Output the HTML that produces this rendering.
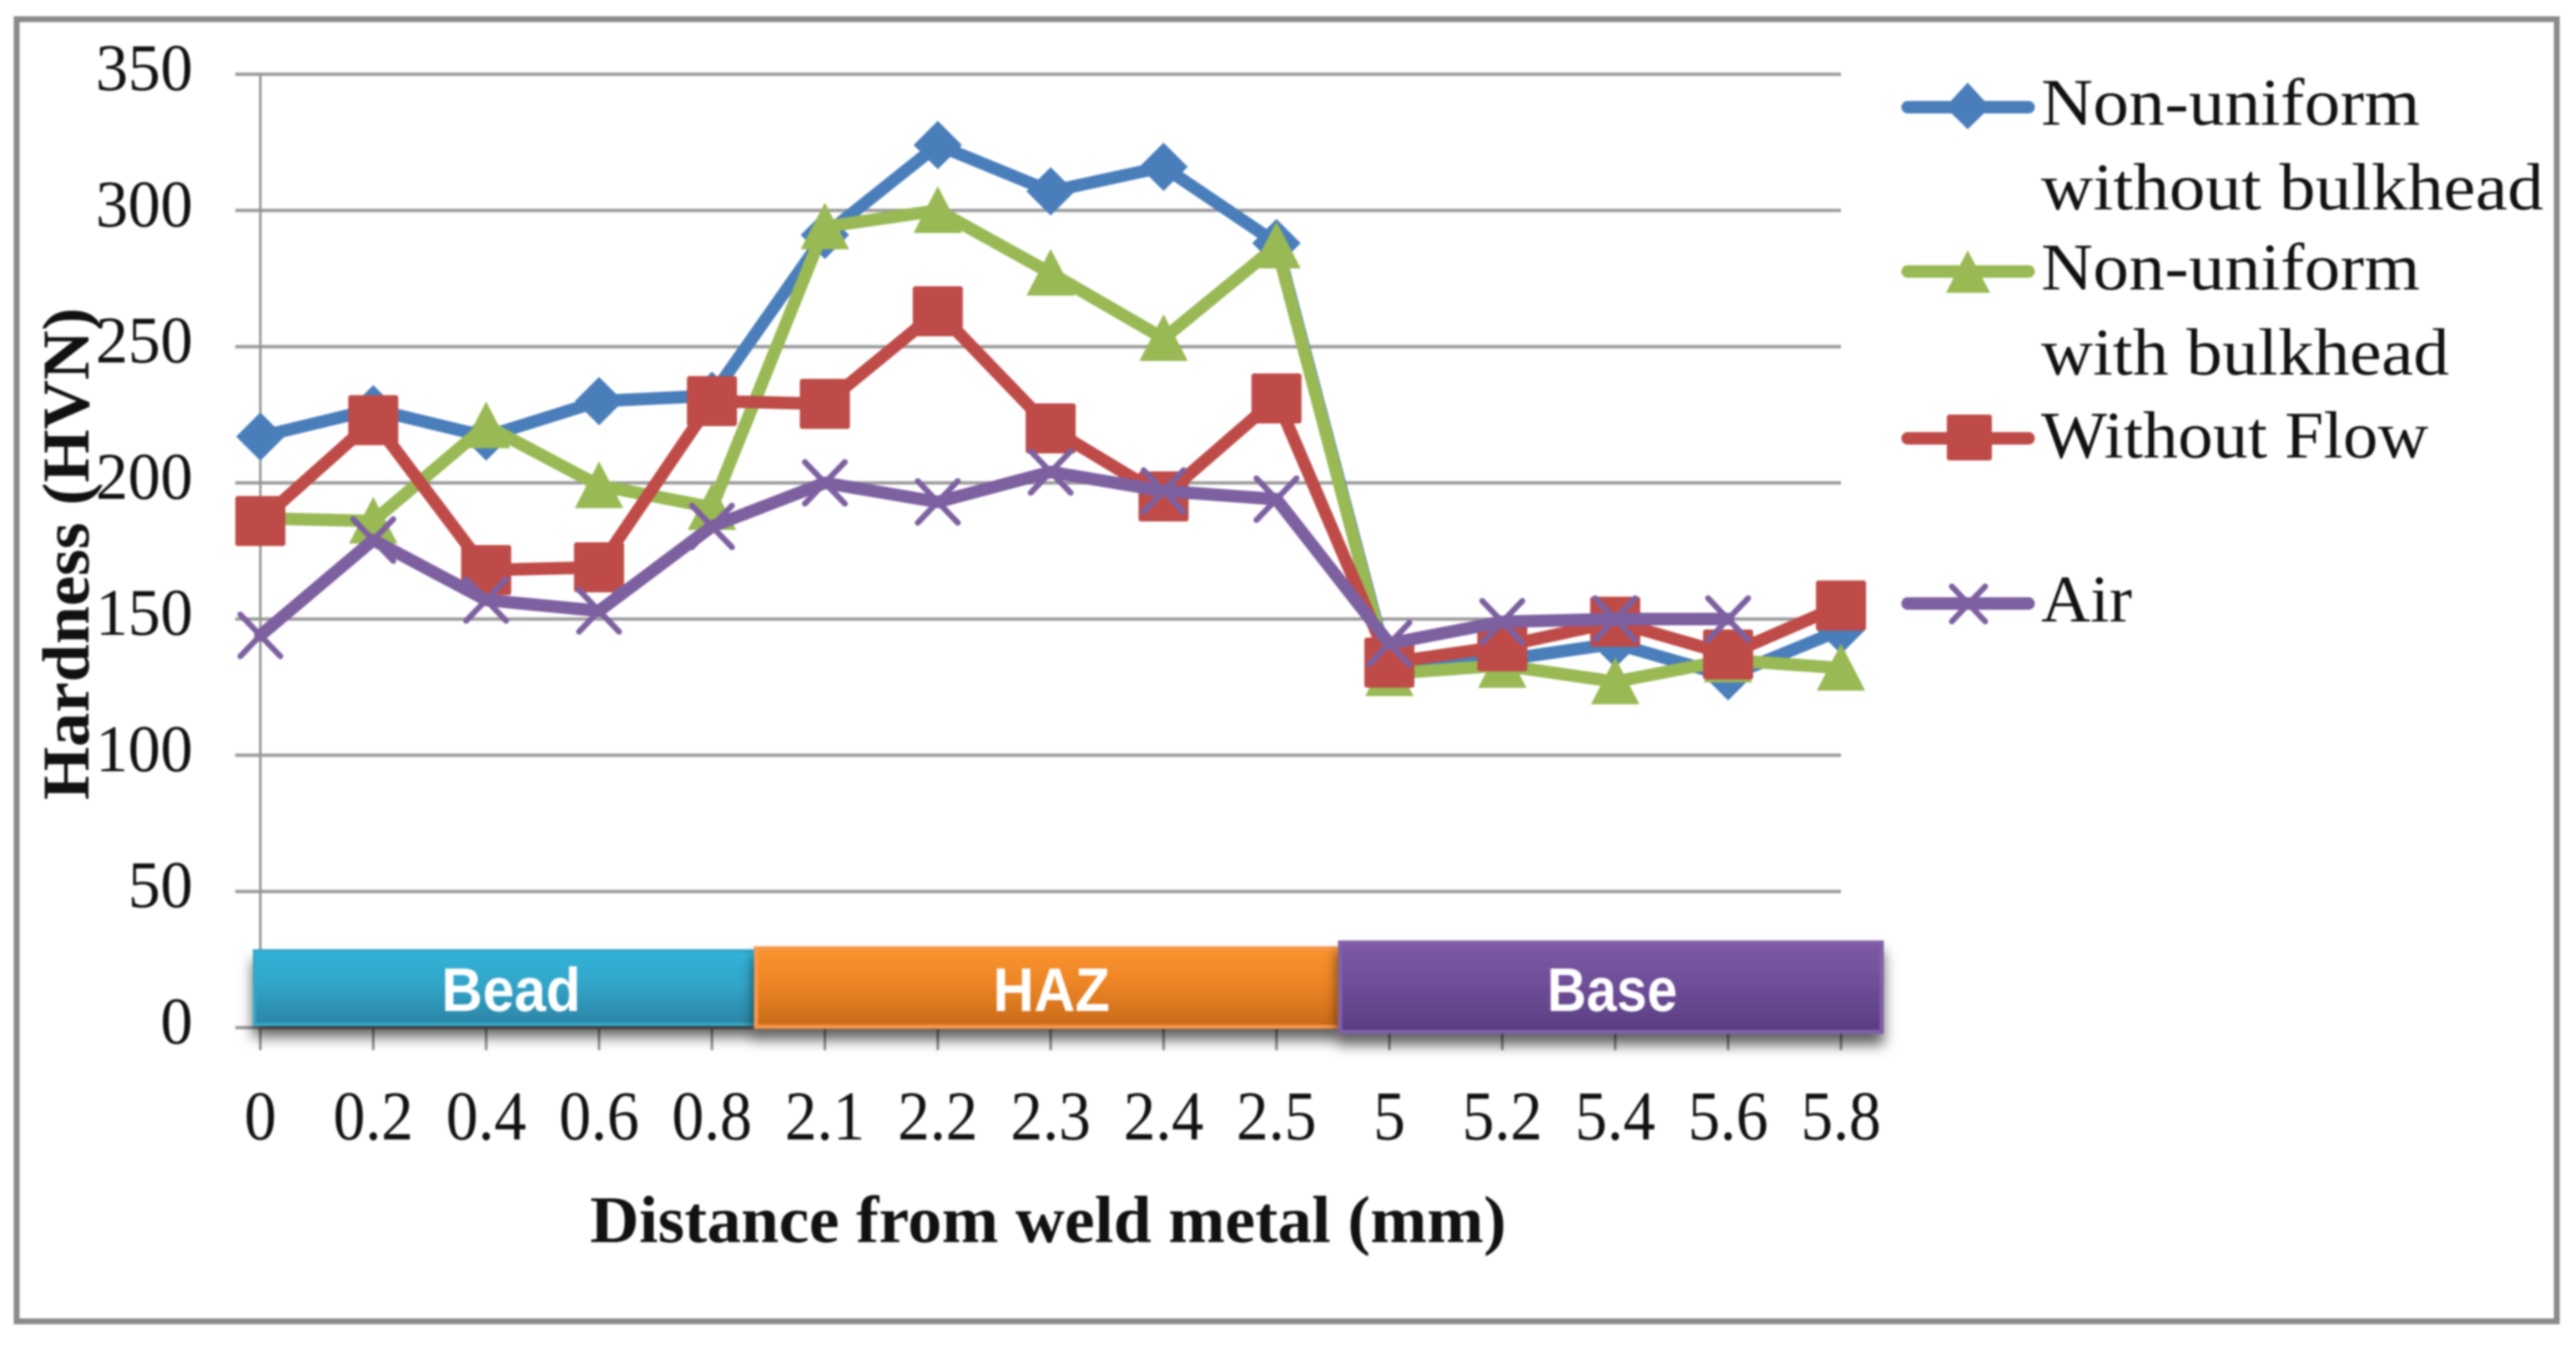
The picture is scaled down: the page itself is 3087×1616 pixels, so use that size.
<!DOCTYPE html>
<html lang="en">
<head>
<meta charset="utf-8">
<title>Hardness vs distance from weld metal</title>
<style>
  html, body { margin: 0; padding: 0; background: #ffffff; }
  body { width: 3087px; height: 1616px; overflow: hidden; }
  svg { display: block; filter: blur(1px); }
  text { font-family: "Liberation Serif", serif; fill: #111111; text-rendering: geometricPrecision; }
  .band-label { font-family: "Liberation Sans", sans-serif; font-weight: 700; fill: #ffffff; font-size: 74px; }
  .legend-text { font-size: 80px; }
  .axis-title { font-size: 80px; font-weight: 700; }
</style>
</head>
<body>
<svg id="chart" xmlns="http://www.w3.org/2000/svg" width="3087" height="1616" viewBox="0 0 3087 1616">
  <defs>
    <filter id="band-shadow" x="-5%" y="-20%" width="110%" height="160%">
      <feDropShadow dx="0" dy="13" stdDeviation="8" flood-color="#000000" flood-opacity="0.62"/>
    </filter>
    <linearGradient id="grad-bead" x1="0" y1="0" x2="0" y2="1">
      <stop offset="0" stop-color="#33b3d9"/><stop offset="0.45" stop-color="#31a5c9"/><stop offset="1" stop-color="#2c85a6"/>
    </linearGradient>
    <linearGradient id="grad-haz" x1="0" y1="0" x2="0" y2="1">
      <stop offset="0" stop-color="#fa932d"/><stop offset="0.45" stop-color="#ec8526"/><stop offset="1" stop-color="#c96a18"/>
    </linearGradient>
    <linearGradient id="grad-base" x1="0" y1="0" x2="0" y2="1">
      <stop offset="0" stop-color="#7d59a6"/><stop offset="0.45" stop-color="#6f4f98"/><stop offset="1" stop-color="#593d80"/>
    </linearGradient>
  </defs>

  <rect x="20" y="23" width="3044" height="1561" fill="#ffffff" stroke="#8a8a8a" stroke-width="7"/>

  <g id="grid-layer"></g>
  <g id="axis-layer"></g>

  <g>
    <g>
      <rect x="305" y="1140" width="601" height="88" fill="url(#grad-bead)" stroke="#35a7c9" stroke-width="4" filter="url(#band-shadow)"/>
      <text class="band-label" x="529" y="1212" textLength="167" lengthAdjust="spacingAndGlyphs">Bead</text>
    </g>
    <g>
      <rect x="906" y="1137" width="699" height="94" fill="url(#grad-haz)" stroke="#f79646" stroke-width="5" filter="url(#band-shadow)"/>
      <text class="band-label" x="1190" y="1212" textLength="140" lengthAdjust="spacingAndGlyphs">HAZ</text>
    </g>
    <g>
      <rect x="1606" y="1130" width="649" height="107" fill="url(#grad-base)" stroke="#8060a8" stroke-width="5" filter="url(#band-shadow)"/>
      <text class="band-label" x="1854" y="1212" textLength="156" lengthAdjust="spacingAndGlyphs">Base</text>
    </g>
  </g>

  <g id="series-layer"></g>

  <text class="axis-title" x="707" y="1489" textLength="1098" lengthAdjust="spacingAndGlyphs">Distance from weld metal (mm)</text>
  <text class="axis-title" transform="translate(106,959) rotate(-90)" textLength="590" lengthAdjust="spacingAndGlyphs">Hardness (HVN)</text>

  <g>
    <g>
      <line x1="2286" y1="128.5" x2="2431" y2="128.5" stroke="#4a7ebb" stroke-width="15" stroke-linecap="round"/>
      <polygon points="2358,99 2385,128.5 2358,155 2331,128.5" fill="#4a7ebb"/>
      <text class="legend-text" x="2446" y="149.5" textLength="454" lengthAdjust="spacingAndGlyphs">Non-uniform</text>
      <text class="legend-text" x="2446" y="251" textLength="602" lengthAdjust="spacingAndGlyphs">without bulkhead</text>
    </g>
    <g>
      <line x1="2286" y1="325.5" x2="2431" y2="325.5" stroke="#98b954" stroke-width="15" stroke-linecap="round"/>
      <polygon points="2358,300 2385,351 2332,351" fill="#98b954"/>
      <text class="legend-text" x="2446" y="347" textLength="454" lengthAdjust="spacingAndGlyphs">Non-uniform</text>
      <text class="legend-text" x="2446" y="449" textLength="489" lengthAdjust="spacingAndGlyphs">with bulkhead</text>
    </g>
    <g>
      <line x1="2286" y1="525.5" x2="2431" y2="525.5" stroke="#be4b48" stroke-width="15" stroke-linecap="round"/>
      <rect x="2333" y="497" width="54" height="55" rx="3" fill="#be4b48"/>
      <text class="legend-text" x="2446" y="548.5" textLength="464" lengthAdjust="spacingAndGlyphs">Without Flow</text>
    </g>
    <g>
      <line x1="2286" y1="723.5" x2="2431" y2="723.5" stroke="#7d60a0" stroke-width="15" stroke-linecap="round"/>
      <path d="M2339,703 L2379,745 M2379,703 L2339,745" stroke="#7d60a0" stroke-width="7" stroke-linecap="round" fill="none"/>
      <text class="legend-text" x="2446" y="745" textLength="109" lengthAdjust="spacingAndGlyphs">Air</text>
    </g>
  </g>
</svg>

<script>
// ---- chart data ----
const categories = ["0","0.2","0.4","0.6","0.8","2.1","2.2","2.3","2.4","2.5","5","5.2","5.4","5.6","5.8"];
const yTicks = [0, 50, 100, 150, 200, 250, 300, 350];
const nonUniformWithoutBulkhead = [217, 227, 217, 230, 232, 291, 324, 307, 316, 288, 131, 135, 141, 129, 146];
const nonUniformWithBulkhead = [187, 186, 221, 199, 191, 294, 300, 277, 253, 287, 130, 133, 127, 135, 132];
const withoutFlow = [186, 223, 168, 169, 230, 229, 263, 220, 195, 231, 134, 140, 149, 137, 155];
const air = [144, 179, 157, 153, 184, 200, 193, 204, 197, 194, 141, 149, 150, 150];
</script>
<script>
(function () {
  const NS = 'http://www.w3.org/2000/svg';
  const X0 = 312, XSTEP = 135.3;
  const Y0 = 1232, Y350 = 89, YMAX = 350;
  const xScale = function (i) { return X0 + i * XSTEP; };
  const yScale = function (v) { return Y0 - v * (Y0 - Y350) / YMAX; };
  const xEnd = xScale(categories.length - 1);

  const gridLayer = document.getElementById('grid-layer');
  const axisLayer = document.getElementById('axis-layer');
  const seriesLayer = document.getElementById('series-layer');

  function make(tag, attrs, parent) {
    const el = document.createElementNS(NS, tag);
    Object.keys(attrs).forEach(function (k) { el.setAttribute(k, attrs[k]); });
    parent.appendChild(el);
    return el;
  }

  // gridlines, y ticks, y labels
  yTicks.forEach(function (v) {
    const y = yScale(v);
    const ln = make('line', { x1: 282, y1: y, x2: xEnd, y2: y, stroke: '#9c9c9c', 'stroke-width': 4 }, gridLayer);
    
    
    const t = make('text', { transform: 'translate(231,' + (y + 19) + ') scale(0.97,1)', 'text-anchor': 'end', 'font-size': 80 }, axisLayer);
    t.textContent = String(v);
    
    
  });

  // y axis line
  const yAxis = make('line', { x1: X0, y1: yScale(YMAX), x2: X0, y2: Y0 + 27, stroke: '#969696', 'stroke-width': 3 }, axisLayer);
  
  

  // x ticks and labels
  categories.forEach(function (c, i) {
    const x = xScale(i);
    const tk = make('line', { x1: x, y1: Y0, x2: x, y2: Y0 + 27, stroke: '#8f8f8f', 'stroke-width': 3 }, axisLayer);
    
    
    const t = make('text', { transform: 'translate(' + x + ',1366) scale(0.915,1)', 'text-anchor': 'middle', 'font-size': 84 }, axisLayer);
    t.textContent = c;
    
    
  });

  function drawLine(values, color, key) {
    const pts = values.map(function (v, i) { return xScale(i) + ',' + yScale(v); }).join(' ');
    const pl = make('polyline', { points: pts, fill: 'none', stroke: color, 'stroke-width': 15, 'stroke-linejoin': 'round', 'stroke-linecap': 'round' }, seriesLayer);
    
    
  }

  function drawDiamonds(values, color, key) {
    values.forEach(function (v, i) {
      const x = xScale(i), y = yScale(v);
      const m = make('polygon', { points: x + ',' + (y - 29) + ' ' + (x + 29) + ',' + y + ' ' + x + ',' + (y + 29) + ' ' + (x - 29) + ',' + y, fill: color }, seriesLayer);
      
      
    });
  }

  function drawTriangles(values, color, key) {
    values.forEach(function (v, i) {
      const x = xScale(i), y = yScale(v);
      const m = make('polygon', { points: x + ',' + (y - 29) + ' ' + (x + 29) + ',' + (y + 27) + ' ' + (x - 29) + ',' + (y + 27), fill: color }, seriesLayer);
      
      
    });
  }

  function drawSquares(values, color, key) {
    values.forEach(function (v, i) {
      const x = xScale(i), y = yScale(v);
      const m = make('rect', { x: x - 30, y: y - 30, width: 60, height: 60, rx: 3, fill: color }, seriesLayer);
      
      
    });
  }

  function drawCrosses(values, color, key) {
    values.forEach(function (v, i) {
      const x = xScale(i), y = yScale(v);
      const d = 'M' + (x - 24) + ',' + (y - 25) + ' L' + (x + 24) + ',' + (y + 25) + ' M' + (x + 24) + ',' + (y - 25) + ' L' + (x - 24) + ',' + (y + 25);
      const m = make('path', { d: d, fill: 'none', stroke: color, 'stroke-width': 7, 'stroke-linecap': 'round' }, seriesLayer);
      
      
    });
  }

  drawLine(nonUniformWithoutBulkhead, '#4a7ebb', 'non-uniform-without-bulkhead');
  drawDiamonds(nonUniformWithoutBulkhead, '#4a7ebb', 'non-uniform-without-bulkhead');
  drawLine(nonUniformWithBulkhead, '#98b954', 'non-uniform-with-bulkhead');
  drawTriangles(nonUniformWithBulkhead, '#98b954', 'non-uniform-with-bulkhead');
  drawLine(withoutFlow, '#be4b48', 'without-flow');
  drawSquares(withoutFlow, '#be4b48', 'without-flow');
  drawLine(air, '#7d60a0', 'air');
  drawCrosses(air, '#7d60a0', 'air');
})();
</script>
</body>
</html>
